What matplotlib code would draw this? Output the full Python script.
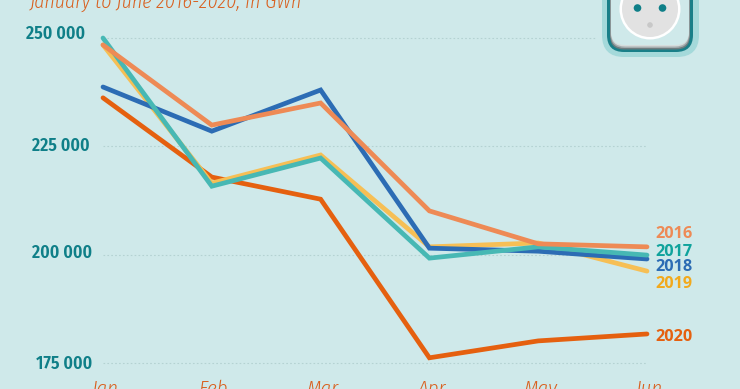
import matplotlib
matplotlib.use('Agg')
import matplotlib.pyplot as plt
from matplotlib.patches import FancyBboxPatch, Circle

months = ['Jan', 'Feb', 'Mar', 'Apr', 'May', 'Jun']
yticks = [250000, 225000, 200000, 175000]
ytick_labels = ['250 000', '225 000', '200 000', '175 000']

# GWh
y2016 = [248400, 229900, 235000, 210100, 202500, 201800]
y2017 = [250000, 215800, 222300, 199200, 201800, 199900]
y2018 = [238700, 228500, 238000, 201500, 200800, 199000]
y2019 = [248400, 216500, 223000, 201800, 202700, 196200]
y2020 = [236200, 217900, 212800, 176200, 180100, 181700]

bg = '#cfe9ea'
teal = '#0f7f88'
orange = '#d9601f'
narrow = ['Fira Sans Condensed', 'Lato', 'DejaVu Sans']

fig = plt.figure(figsize=(7.4, 3.89), dpi=100, facecolor=bg)
ax = fig.add_axes([0, 0, 1, 1])
ax.set_facecolor(bg)
ax.set_xlim(-103 / 108.8, (740 - 103) / 108.8)
ax.set_ylim(169000, 258769)
ax.axis('off')

# grid
for t in yticks:
    right = 4.53 if t == 250000 else 5.0
    ax.plot([0, right], [t, t], color='#b4d2d2', lw=0.8, ls=(0, (1.5, 2)), zorder=1)

# y labels are a bit staggered in the original
label_x = [85, 90, 92, 92]
label_dy = [-920, -80, -380, 230]
for t, s, px, dy in zip(yticks, ytick_labels, label_x, label_dy):
    ax.text((px - 103) / 108.8, t - dy, s, color=teal, fontsize=12.8, fontweight=600,
            family=narrow, ha='right', va='center')

x = list(range(len(months)))
ax.plot(x, y2020, color='#e5600f', lw=3.4, solid_capstyle='round', solid_joinstyle='miter', zorder=3)
ax.plot(x, y2019, color='#f6bf55', lw=3.4, solid_capstyle='round', solid_joinstyle='miter', zorder=3)
ax.plot(x, y2018, color='#2c6cb4', lw=3.4, solid_capstyle='round', solid_joinstyle='miter', zorder=3)
ax.plot(x, y2017, color='#47b8b4', lw=3.4, solid_capstyle='round', solid_joinstyle='miter', zorder=3)
ax.plot(x, y2016, color='#ee8a55', lw=3.4, solid_capstyle='round', solid_joinstyle='miter', zorder=3)

# end labels
end_labels = ['2016', '2017', '2018', '2019', '2020']
end_cols = ['#ee8a55', '#0fa39c', '#2c6cb4', '#f2a91c', '#e5600f']
end_y = [204800, 200650, 197200, 193300, 181000]
for s, c, v in zip(end_labels, end_cols, end_y):
    ax.text(5.08, v, s, color=c, fontsize=11.7, fontweight='bold', family='Open Sans', ha='left', va='center')

# month labels, cut by the bottom edge
for i, m in enumerate(months):
    ax.text(i + 0.02, 169000, m, color=orange, fontsize=15, style='italic', fontweight=300, family=narrow,
            ha='center', va='center', clip_on=False)

# subtitle, cut by the top edge
fig.text(30 / 740, 1 - 2.5 / 389, 'January to June 2016-2020, in GWh', color=orange, fontsize=14.3,
         style='italic', fontweight=300, family=narrow, ha='left', va='center')

# socket icon in pixel coordinates
icon = fig.add_axes([0, 0, 1, 1], zorder=5)
icon.set_xlim(0, 740)
icon.set_ylim(389, 0)
icon.axis('off')
icon.add_patch(FancyBboxPatch((602, -60), 97, 117, boxstyle='round,pad=0,rounding_size=22', lw=0, fc='#a4d9da'))
icon.add_patch(FancyBboxPatch((607, -60), 86, 112, boxstyle='round,pad=0,rounding_size=17', lw=0, fc='#197f88'))
icon.add_patch(FancyBboxPatch((610, -60), 80, 109.5, boxstyle='round,pad=0,rounding_size=14', lw=0, fc='#6f7d80'))
icon.add_patch(FancyBboxPatch((610.5, -60), 79, 108, boxstyle='round,pad=0,rounding_size=14', lw=0, fc='#a5adaf'))
icon.add_patch(FancyBboxPatch((611, -60), 78, 106.5, boxstyle='round,pad=0,rounding_size=14', lw=0, fc='#d5dcdc'))
icon.add_patch(FancyBboxPatch((611, -60), 78, 105, boxstyle='round,pad=0,rounding_size=14', lw=0, fc=bg))
icon.add_patch(Circle((650, 9), 30.5, fc='white', lw=0))
icon.add_patch(Circle((650, 9), 28, fc='#e2e2e2', lw=0))
icon.add_patch(Circle((637.5, 8), 3.8, fc='#0f7f88', lw=0))
icon.add_patch(Circle((662.5, 8), 3.8, fc='#0f7f88', lw=0))
icon.add_patch(Circle((650, 25), 2.8, fc='#c8c8c8', lw=0))

fig.savefig('out.png', dpi=100, facecolor=bg)
